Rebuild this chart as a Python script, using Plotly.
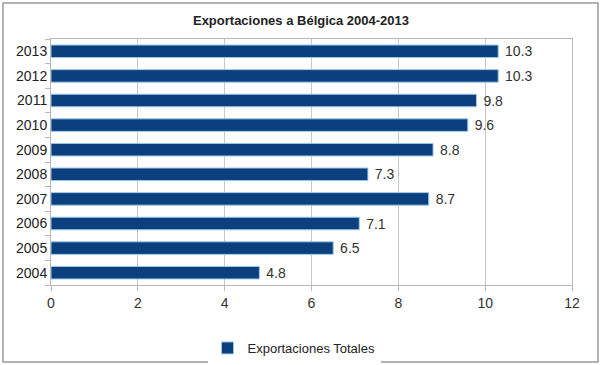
import plotly.graph_objects as go

years = ["2004", "2005", "2006", "2007", "2008", "2009", "2010", "2011", "2012", "2013"]
values = [4.8, 6.5, 7.1, 8.7, 7.3, 8.8, 9.6, 9.8, 10.3, 10.3]
labels = ["4.8", "6.5", "7.1", "8.7", "7.3", "8.8", "9.6", "9.8", "10.3", "10.3"]
series_name = "Exportaciones Totales"
title = "Exportaciones a Bélgica 2004-2013"

L, R, T, B = 51, 31, 39, 80
W, H = 603, 365
pw, ph = W - L - R, H - T - B

def px(x):
    return (x - L) / pw

def py(y):
    return (H - B - y) / ph

fig = go.Figure(go.Bar(
    x=values, y=years, orientation="h", name=series_name,
    marker=dict(color="#0b3f7e", line=dict(color="#9cc9e8", width=1)),
    text=labels, texttemplate=" %{text}", textposition="outside", cliponaxis=False,
    constraintext="none",
    textfont=dict(family="Liberation Sans", size=14, color="#333333"),
    showlegend=True,
))

fig.update_layout(
    width=W, height=H,
    margin=dict(l=L, r=R, t=T, b=B, autoexpand=False),
    paper_bgcolor="white", plot_bgcolor="white",
    bargap=0.49,
    font=dict(family="Liberation Sans", size=13, color="#222222"),
    title=dict(text="<b>" + title + "</b>", xref="container", x=301 / W, xanchor="center",
               yref="container", y=1 - 20 / H, yanchor="middle",
               font=dict(family="Liberation Sans", size=13, color="#222222")),
    xaxis=dict(range=[0, 12], dtick=2, showgrid=True, gridcolor="#c8c8c8", gridwidth=1,
               showline=True, linecolor="#b8b8b8", mirror=True, zeroline=False,
               ticks="outside", ticklen=5, tickcolor="#b8b8b8",
               tickfont=dict(size=14, color="#333333")),
    yaxis=dict(showline=True, linecolor="#b8b8b8", mirror=True,
               ticks="outside", ticklen=5, tickcolor="#b8b8b8",
               tickson="boundaries", showgrid=False,
               tickfont=dict(size=14, color="#222222")),
    legend=dict(orientation="h", xref="paper", x=px(294), xanchor="center",
                yref="container", y=1 - 348 / H, yanchor="middle",
                font=dict(size=13, color="#222222"), itemwidth=30),
    shapes=[dict(type="rect", xref="paper", yref="paper",
                 x0=px(3), x1=px(598), y0=py(362), y1=py(3),
                 line=dict(color="#9a9a9a", width=1.5), fillcolor="rgba(0,0,0,0)", layer="below")],
)

fig.write_html("out.html")
